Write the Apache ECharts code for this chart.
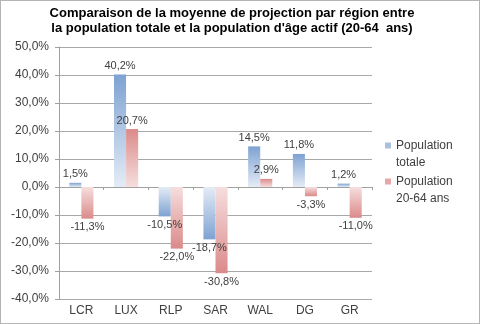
<!DOCTYPE html>
<html>
<head>
<meta charset="utf-8">
<script src="https://cdn.jsdelivr.net/npm/echarts@6/dist/echarts.min.js"></script>
<style>
html,body{margin:0;padding:0;background:#fff;}
#frame{width:478px;height:322px;border:1px solid #b4b4b4;position:relative;}
#chart{width:478px;height:322px;}
</style>
</head>
<body>
<div id="frame"><div id="chart"></div></div>
<script>
var categories = ['LCR', 'LUX', 'RLP', 'SAR', 'WAL', 'DG', 'GR'];
var seriesNames = ['Population totale', 'Population 20-64 ans'];
var legendLabels = ['Population\ntotale', 'Population\n20-64 ans'];
var popTotale = [1.5, 40.2, -10.5, -18.7, 14.5, 11.8, 1.2];
var pop2064 = [-11.3, 20.7, -22.0, -30.8, 2.9, -3.3, -11.0];
var yMin = -40, yMax = 50, yInterval = 10;

function fmt(v) { return v.toFixed(1).replace('.', ',') + '%'; }

function grad(dark, light, positive) {
  return new echarts.graphic.LinearGradient(0, 0, 0, 1, positive ?
    [{offset: 0, color: dark}, {offset: 1, color: light}] :
    [{offset: 0, color: light}, {offset: 1, color: dark}]);
}

function buildData(values, dark, light) {
  return values.map(function (v) {
    return {
      value: v,
      itemStyle: {color: grad(dark, light, v >= 0)},
      label: {position: v >= 0 ? 'top' : 'bottom'}
    };
  });
}

var textColor = '#404040';
var chart = echarts.init(document.getElementById('chart'), null, {renderer: 'canvas'});
chart.setOption({
  animation: false,
  title: {
    text: 'Comparaison de la moyenne de projection par région entre\nla population totale et la population d\'âge actif (20-64  ans)',
    left: 231, top: 5, padding: 0, textAlign: 'center',
    textStyle: {fontFamily: 'Liberation Sans', fontSize: 13, fontWeight: 'bold', color: '#000', lineHeight: 15}
  },
  legend: {
    orient: 'vertical', left: 384, top: 119, itemWidth: 6, itemHeight: 6, itemGap: -15,
    icon: 'rect', padding: 0,
    data: [{name: seriesNames[0], itemStyle: {color: '#a9c0e0'}}, {name: seriesNames[1], itemStyle: {color: '#e5a8a8'}}],
    formatter: function (n) { return '\n' + legendLabels[seriesNames.indexOf(n)]; },
    textStyle: {fontFamily: 'Liberation Sans', fontSize: 12, color: textColor, lineHeight: 17}
  },
  grid: {left: 58, right: 107, top: 46, bottom: 24, containLabel: false},
  xAxis: [{
    type: 'category', data: categories, position: 'bottom',
    axisLine: {show: false, onZero: false},
    axisTick: {show: false},
    axisLabel: {color: textColor, fontFamily: 'Liberation Sans', fontSize: 12, margin: 6}
  }, {
    type: 'category', data: categories, position: 'bottom',
    axisLine: {show: true, onZero: true, lineStyle: {color: '#a0a0a0', width: 1}},
    axisTick: {show: true, length: 3, lineStyle: {color: '#a0a0a0'}},
    axisLabel: {show: false}
  }],
  yAxis: {
    type: 'value', min: yMin, max: yMax, interval: yInterval,
    axisLine: {show: true, lineStyle: {color: '#a0a0a0'}},
    axisTick: {show: true, length: 4, lineStyle: {color: '#a0a0a0'}},
    splitLine: {lineStyle: {color: '#a8a8a8', width: 1}},
    axisLabel: {color: textColor, fontFamily: 'Liberation Sans', fontSize: 12, margin: 10,
      formatter: function (v) { return fmt(v); }}
  },
  series: [{
    name: seriesNames[0], type: 'bar', xAxisIndex: 0,
    barGap: '0%', barCategoryGap: '46%',
    data: buildData(popTotale, '#7ea2d2', '#e4ecf6'),
    label: {show: true, distance: 3, color: textColor, fontFamily: 'Liberation Sans', fontSize: 11,
      formatter: function (p) { return fmt(p.value); }}
  }, {
    name: seriesNames[1], type: 'bar', xAxisIndex: 0,
    barGap: '0%', barCategoryGap: '46%',
    data: buildData(pop2064, '#db8a8a', '#f6dede'),
    label: {show: true, distance: 3, color: textColor, fontFamily: 'Liberation Sans', fontSize: 11,
      formatter: function (p) { return fmt(p.value); }}
  }]
});
</script>
</body>
</html>
